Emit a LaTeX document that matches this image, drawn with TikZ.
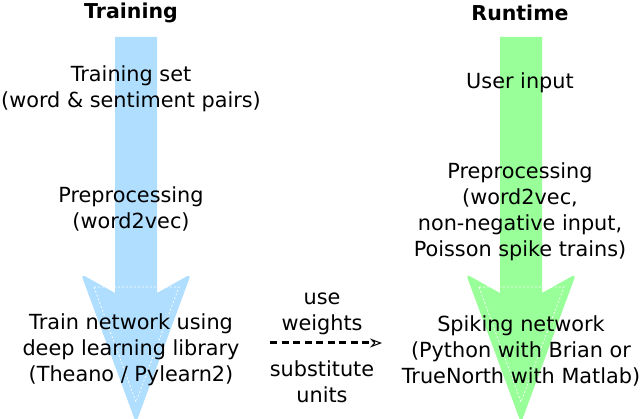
\documentclass[tikz,border=0pt]{standalone}
\usepackage{fontspec}
\setmainfont{DejaVu Sans}
\usetikzlibrary{arrows.meta}
\definecolor{trainblue}{RGB}{176,222,255}
\definecolor{rungreen}{RGB}{153,255,153}
\tikzset{
  lbl/.style={align=center, inner sep=0pt, font=\fontsize{20.8}{26}\selectfont},
  ttl/.style={inner sep=0pt, font=\fontsize{20.5}{24}\selectfont\bfseries},
  inner/.style={draw=white, line width=0.7pt, dash pattern=on 2pt off 2pt},
  link/.style={line width=3pt, dash pattern=on 7pt off 4.5pt, -{Stealth[length=12pt,width=9pt,inset=4pt,line width=1pt,open]}},
}
\newcommand{\bigarrow}[2]{%
  \fill[#2] (#1-21,37) -- (#1+21,37) -- (#1+21,293)
    [rounded corners=5pt] -- (#1+55,274) -- (#1,423) -- (#1-55,274)
    [sharp corners] -- (#1-21,293) -- cycle;
  \draw[inner] (#1-42,287) -- (#1+43,287) -- (#1,402) -- cycle;
}
\begin{document}
\begin{tikzpicture}[x=1pt,y=-1pt]
\useasboundingbox (0,0) rectangle (640,419);
\bigarrow{136}{trainblue}
\bigarrow{521}{rungreen}
\node[ttl] (ttitle) at (131,13) {Training};
\node[ttl] (rtitle) at (520,13) {Runtime};
\node[lbl] (tset) at (131,89) {Training set\\(word \& sentiment pairs)};
\node[lbl] (tpre) at (131,209) {Preprocessing\\(word2vec)};
\node[lbl] (tnet) at (131,350) {Train network using\\deep learning library\\(Theano / Pylearn2)};
\node[lbl] (rin) at (520,83) {User input};
\node[lbl] (rpre) at (520,212) {Preprocessing\\(word2vec,\\non-negative input,\\Poisson spike trains)};
\node[lbl] (rnet) at (521,351) {Spiking network\\(Python with Brian or\\TrueNorth with Matlab)};
\node[lbl] (use) at (322,314) {use\\weights};
\node[lbl] (subst) at (322,382) {substitute\\units};
\coordinate (da) at (270,343);
\coordinate (db) at (382,343);
\draw[link] (da) -- (db);
\end{tikzpicture}
\end{document}
